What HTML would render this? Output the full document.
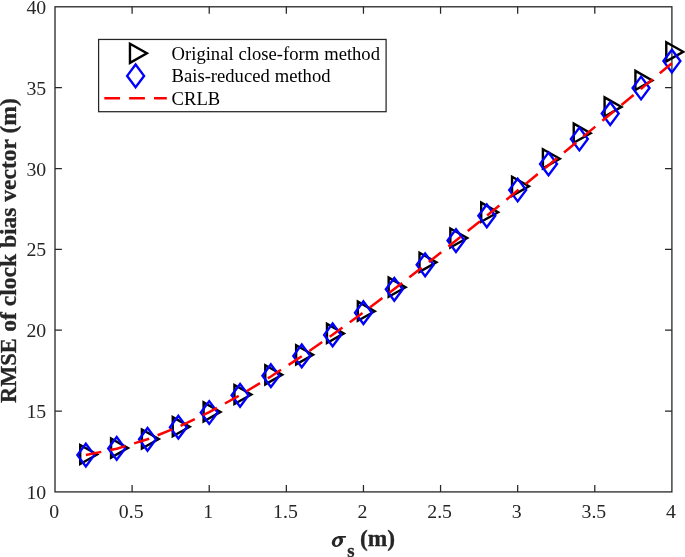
<!DOCTYPE html><html><head><meta charset="utf-8"><title>RMSE of clock bias vector</title>
<style>html,body{margin:0;padding:0;background:#fff;overflow:hidden}svg{display:block;will-change:transform;transform:translateZ(0)}text{font-family:"Liberation Serif",serif;fill:#262626}</style></head><body>
<svg width="685" height="557" viewBox="0 0 685 557">
<rect width="685" height="557" fill="#fff"/>
<g stroke="#262626" stroke-width="1.3" fill="none" stroke-linecap="square">
<rect x="55.0" y="6.8" width="616.90" height="485.10"/>
<path d="M132.11 491.9v-6.9M132.11 6.8v6.9" stroke-linecap="butt" stroke-width="1.25"/>
<path d="M209.22 491.9v-6.9M209.22 6.8v6.9" stroke-linecap="butt" stroke-width="1.25"/>
<path d="M286.34 491.9v-6.9M286.34 6.8v6.9" stroke-linecap="butt" stroke-width="1.25"/>
<path d="M363.45 491.9v-6.9M363.45 6.8v6.9" stroke-linecap="butt" stroke-width="1.25"/>
<path d="M440.56 491.9v-6.9M440.56 6.8v6.9" stroke-linecap="butt" stroke-width="1.25"/>
<path d="M517.67 491.9v-6.9M517.67 6.8v6.9" stroke-linecap="butt" stroke-width="1.25"/>
<path d="M594.79 491.9v-6.9M594.79 6.8v6.9" stroke-linecap="butt" stroke-width="1.25"/>
<path d="M55.0 411.05h6.9M671.9 411.05h-6.9" stroke-linecap="butt" stroke-width="1.25"/>
<path d="M55.0 330.20h6.9M671.9 330.20h-6.9" stroke-linecap="butt" stroke-width="1.25"/>
<path d="M55.0 249.35h6.9M671.9 249.35h-6.9" stroke-linecap="butt" stroke-width="1.25"/>
<path d="M55.0 168.50h6.9M671.9 168.50h-6.9" stroke-linecap="butt" stroke-width="1.25"/>
<path d="M55.0 87.65h6.9M671.9 87.65h-6.9" stroke-linecap="butt" stroke-width="1.25"/>
</g>
<g font-size="19.8" text-anchor="middle">
<text x="54.10" y="518.4">0</text>
<text x="131.21" y="518.4">0.5</text>
<text x="208.32" y="518.4">1</text>
<text x="285.44" y="518.4">1.5</text>
<text x="362.55" y="518.4">2</text>
<text x="439.66" y="518.4">2.5</text>
<text x="516.77" y="518.4">3</text>
<text x="593.89" y="518.4">3.5</text>
<text x="671.00" y="518.4">4</text>
</g>
<g font-size="19.8" text-anchor="end">
<text x="46.2" y="498.90">10</text>
<text x="46.2" y="418.05">15</text>
<text x="46.2" y="337.20">20</text>
<text x="46.2" y="256.35">25</text>
<text x="46.2" y="175.50">30</text>
<text x="46.2" y="94.65">35</text>
<text x="46.2" y="13.80">40</text>
</g>
<g font-size="23.4" font-weight="bold" stroke="#262626" stroke-width="0.3" transform="translate(16.0 0) rotate(-90)"><text x="-403.0" y="0" textLength="64.7" lengthAdjust="spacingAndGlyphs">RMSE</text><text x="-331.8" y="0" textLength="233.6" lengthAdjust="spacingAndGlyphs">of clock bias vector (m)</text></g>
<g fill="#262626" transform="translate(337.4 541.65) skewX(-14)"><path fill-rule="evenodd" d="M0 -5.3A5.5 5.3 0 1 0 0.01 -5.3ZM0.0 -3.3499999999999996A2.15 3.55 0 1 1 -0.01 -3.3499999999999996Z"/><path d="M-1.5 -5.75H7.4L7.2 -3.9H1.5Z"/></g>
<text font-size="18.8" font-weight="bold" stroke="#262626" stroke-width="0.3" x="347.2" y="557.0">s</text>
<text font-size="23.4" font-weight="bold" stroke="#262626" stroke-width="0.3" x="360.0" y="545.6">(m)</text>
<g fill="none" stroke="#000" stroke-width="2.4" stroke-linejoin="miter" stroke-miterlimit="10">
<path d="M80.21 444.95L97.11 454.50L80.21 464.05Z"/>
<path d="M111.06 438.55L127.96 448.10L111.06 457.65Z"/>
<path d="M141.90 429.45L158.80 439.00L141.90 448.55Z"/>
<path d="M172.75 417.15L189.65 426.70L172.75 436.25Z"/>
<path d="M203.59 402.35L220.49 411.90L203.59 421.45Z"/>
<path d="M234.44 384.95L251.34 394.50L234.44 404.05Z"/>
<path d="M265.28 365.25L282.18 374.80L265.28 384.35Z"/>
<path d="M296.13 345.25L313.03 354.80L296.13 364.35Z"/>
<path d="M326.97 323.85L343.87 333.40L326.97 342.95Z"/>
<path d="M357.82 301.65L374.72 311.20L357.82 320.75Z"/>
<path d="M388.66 277.65L405.56 287.20L388.66 296.75Z"/>
<path d="M419.51 252.75L436.41 262.30L419.51 271.85Z"/>
<path d="M450.35 228.45L467.25 238.00L450.35 247.55Z"/>
<path d="M481.20 202.65L498.10 212.20L481.20 221.75Z"/>
<path d="M512.04 176.75L528.94 186.30L512.04 195.85Z"/>
<path d="M542.89 149.25L559.79 158.80L542.89 168.35Z"/>
<path d="M573.73 123.65L590.63 133.20L573.73 142.75Z"/>
<path d="M604.58 97.35L621.48 106.90L604.58 116.45Z"/>
<path d="M635.42 70.85L652.32 80.40L635.42 89.95Z"/>
<path d="M666.27 42.25L683.17 51.80L666.27 61.35Z"/>
</g>
<g fill="none" stroke="#0000ff" stroke-width="2.4" stroke-linejoin="miter" stroke-miterlimit="10">
<path d="M85.84 443.75L94.30 455.10L85.84 466.45L77.39 455.10Z"/>
<path d="M116.69 437.05L125.14 448.40L116.69 459.75L108.24 448.40Z"/>
<path d="M147.53 427.95L155.98 439.30L147.53 450.65L139.09 439.30Z"/>
<path d="M178.38 415.85L186.83 427.20L178.38 438.55L169.93 427.20Z"/>
<path d="M209.22 401.15L217.67 412.50L209.22 423.85L200.78 412.50Z"/>
<path d="M240.07 383.95L248.52 395.30L240.07 406.65L231.62 395.30Z"/>
<path d="M270.91 364.35L279.36 375.70L270.91 387.05L262.46 375.70Z"/>
<path d="M301.76 344.55L310.21 355.90L301.76 367.25L293.31 355.90Z"/>
<path d="M332.61 323.55L341.06 334.90L332.61 346.25L324.16 334.90Z"/>
<path d="M363.45 301.35L371.90 312.70L363.45 324.05L355.00 312.70Z"/>
<path d="M394.30 277.95L402.75 289.30L394.30 300.65L385.85 289.30Z"/>
<path d="M425.14 253.45L433.59 264.80L425.14 276.15L416.69 264.80Z"/>
<path d="M455.99 229.25L464.44 240.60L455.99 251.95L447.54 240.60Z"/>
<path d="M486.83 204.45L495.28 215.80L486.83 227.15L478.38 215.80Z"/>
<path d="M517.67 178.65L526.12 190.00L517.67 201.35L509.22 190.00Z"/>
<path d="M548.52 152.55L556.97 163.90L548.52 175.25L540.07 163.90Z"/>
<path d="M579.37 127.65L587.82 139.00L579.37 150.35L570.91 139.00Z"/>
<path d="M610.21 102.25L618.66 113.60L610.21 124.95L601.76 113.60Z"/>
<path d="M641.05 76.65L649.50 88.00L641.05 99.35L632.60 88.00Z"/>
<path d="M671.90 49.75L680.35 61.10L671.90 72.45L663.45 61.10Z"/>
</g>
<polyline points="85.84,454.96 116.69,448.77 147.53,439.28 178.38,426.93 209.22,412.11 240.07,395.18 270.91,376.46 301.76,356.24 332.61,334.78 363.45,312.29 394.30,288.98 425.14,265.01 455.99,240.54 486.83,215.69 517.67,190.56 548.52,165.24 579.37,139.80 610.21,114.30 641.05,88.78 671.90,63.28" fill="none" stroke="#ff0000" stroke-width="2.5" stroke-dasharray="15.75 9.1" stroke-linejoin="round"/>
<rect x="98.6" y="39.45" width="287.50" height="72.25" fill="#fff" stroke="#262626" stroke-width="1.25"/>
<g fill="none" stroke="#000" stroke-width="2.4" stroke-miterlimit="10"><path d="M129.97 43.75L146.87 53.30L129.97 62.85Z"/></g>
<g fill="none" stroke="#0000ff" stroke-width="2.4" stroke-miterlimit="10"><path d="M135.60 64.55L144.05 75.90L135.60 87.25L127.15 75.90Z"/></g>
<path d="M104.3 98.2H166.8" stroke="#ff0000" stroke-width="2.5" stroke-dasharray="15.75 9.1"/>
<g font-size="18.6" fill="#000" word-spacing="0.4">
<text x="171.6" y="59.7" style="fill:#000">Original close-form method</text>
<text x="171.6" y="82.2" style="fill:#000">Bais-reduced method</text>
<text x="171.6" y="104.6" style="fill:#000">CRLB</text>
</g>
</svg></body></html>
